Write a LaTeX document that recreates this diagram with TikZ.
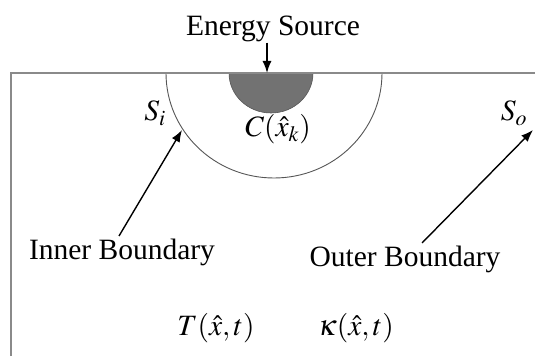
\documentclass[tikz,border=0pt]{standalone}
\usepackage{mathptmx}
\usepackage{fontspec}
\setmainfont{Liberation Serif}
\usetikzlibrary{arrows.meta}
\definecolor{framegray}{HTML}{8A8A8A}
\definecolor{arcgray}{HTML}{555555}
\definecolor{sourcefill}{HTML}{727272}

\begin{document}
\begin{tikzpicture}[
        x=1pt, y=1pt,
        txt/.style={font=\fontsize{29.5}{34}\selectfont, anchor=base},
        frame/.style={framegray, line width=1.5pt},
        boundary/.style={arcgray, line width=0.9pt},
        line/.style={-{Latex[length=12pt,width=9pt]}, line width=1.4pt, black}
    ]
        \useasboundingbox (0,0) rectangle (535,356);

        % source region and outer boundary
        \filldraw[fill=sourcefill, draw=arcgray, line width=0.6pt]
            (229,283) arc[start angle=180, end angle=360, x radius=42, y radius=40] -- cycle;
        \draw[boundary] (166,283) arc[start angle=180, end angle=360, x radius=108, y radius=105];
        \draw[frame] (11,0) -- (11,283) -- (535,283);

        \node[txt, inner sep=0pt] (source) at (273,320) {Energy Source};
        \node[txt] (si) at (155,235) {$S_i$};
        \node[txt] (so) at (514,235) {$S_o$};
        \node[txt] (conc) at (278,219) {$C(\hat{x}_k)$};
        \node[txt] (inner) at (122,96) {Inner Boundary};
        \node[txt] (outer) at (405,89) {Outer Boundary};
        \node[txt] (temp) at (216,21) {$T(\hat{x},t)$};
        \node[txt] (kappa) at (356,21) {$\kappa(\hat{x},t)$};

        \coordinate (sourcetip) at (267,283);
        \coordinate (innertip) at (182,226);
        \coordinate (outertip) at (533,226);

        \draw[line] (source.south -| sourcetip) -- (sourcetip);
        \draw[line] ([xshift=-3pt]inner.north) -- (innertip);
        \draw[line] ([xshift=17pt]outer.north) -- (outertip);
    \end{tikzpicture}
\end{document}
